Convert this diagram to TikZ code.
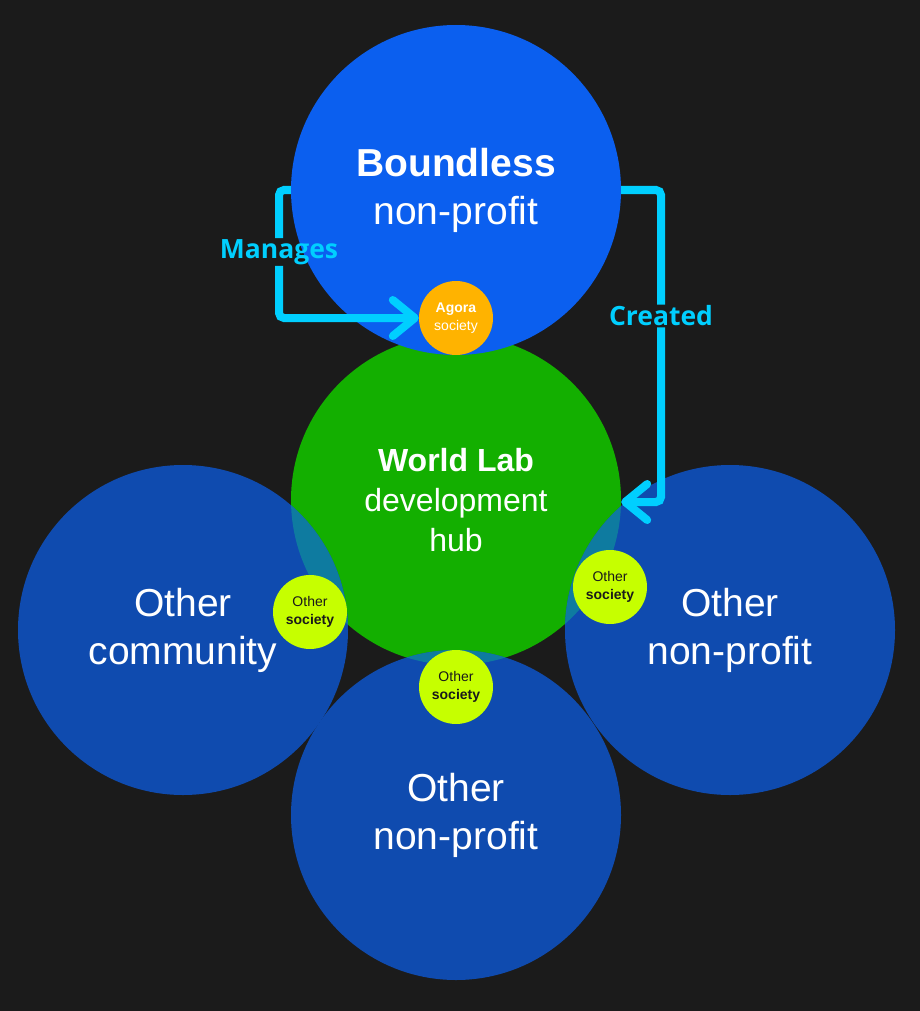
\documentclass[tikz,border=0pt]{standalone}
\usepackage{fontspec}
\setmainfont{Liberation Sans}
\newfontfamily\lblfont{Open Sans}
\usetikzlibrary{arrows.meta}
\definecolor{bg}{HTML}{1B1B1B}
\definecolor{topblue}{HTML}{0B5FEF}
\definecolor{otherblue}{HTML}{0F4BAF}
\definecolor{hubgreen}{HTML}{13AF00}
\definecolor{lens}{HTML}{0E7BA0}
\definecolor{lime}{HTML}{C6FF00}
\definecolor{agora}{HTML}{FFB300}
\definecolor{cyanline}{HTML}{00CFFF}
\definecolor{darktext}{HTML}{1A1A1A}
\begin{document}
\begin{tikzpicture}[x=1pt,y=-1pt,
  big/.style={circle, minimum size=330pt, inner sep=0pt, align=center, text=white,
    font=\fontsize{39}{48}\selectfont},
  hub/.style={big, fill=hubgreen, font=\fontsize{32}{40}\selectfont},
  small/.style={circle, minimum size=74pt, inner sep=0pt, align=center,
    font=\fontsize{14}{17.5}\selectfont},
  soc/.style={small, fill=lime, text=darktext},
  conn/.style={draw=cyanline, line width=8pt, rounded corners=5pt},
  tipconn/.style={conn, -{Straight Barb[length=22pt,width=36pt,round]}},
  lbl/.style={text=cyanline, font=\lblfont\bfseries\fontsize{26.5}{30}\selectfont, inner sep=1pt}]
\useasboundingbox (0,0) rectangle (920,1011);
\fill[bg] (0,0) rectangle (920,1011);

% hub
\node[hub] (wl) at (456,500) {\textbf{World Lab}\\development\\hub};
% other circles
\node[big, fill=otherblue] (lc) at (183,630) {Other\\community};
\node[big, fill=otherblue] (rc) at (730,630) {Other\\non-profit};
\node[big, fill=otherblue] (bc) at (456,815) {Other\\non-profit};
% overlap lenses
\begin{scope}
  \clip (wl.center) circle (165);
  \fill[lens] (lc.center) circle (165);
  \fill[lens] (rc.center) circle (165);
  \fill[lens] (bc.center) circle (165);
\end{scope}
% top circle
\node[big, fill=topblue] (tb) at (456,190) {\textbf{Boundless}\\non-profit};

% labels
\node[lbl] (manages) at (279,252) {Manages};
\node[lbl] (created) at (661,316) {Created};

% small circles
\node[small, fill=agora, text=white] (ag) at (456,318) {\textbf{Agora}\\society};
\node[soc] (ls) at (310,612) {Other\\\textbf{society}};
\node[soc] (rs) at (610,587) {Other\\\textbf{society}};
\node[soc] (bs) at (456,687) {Other\\\textbf{society}};

% connectors
\draw[conn] (tb.west) -| (manages.north);
\draw[tipconn] (manages.south) |- (ag.west);
\draw[conn] (tb.east) -| (created.north);
\draw[tipconn] (created.south) |- ([yshift=-2]wl.east);
\end{tikzpicture}
\end{document}
